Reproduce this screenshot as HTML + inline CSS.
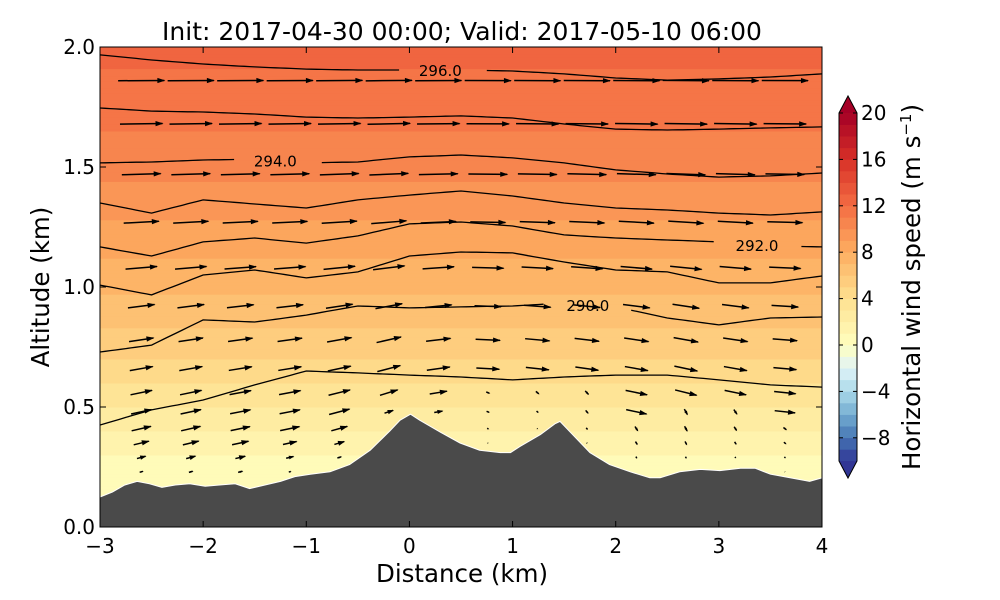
<!DOCTYPE html>
<html><head><meta charset="utf-8"><style>
html,body{margin:0;padding:0;background:#fff;}
svg{display:block;font-family:"DejaVu Sans","Liberation Sans",sans-serif;}
</style></head><body>
<svg id="chart" width="1000" height="600" viewBox="0 0 1000 600">
<defs><clipPath id="plotclip"><rect x="100" y="47" width="722" height="480"/></clipPath></defs>
<g id="field" clip-path="url(#plotclip)"></g>
<g id="isen" clip-path="url(#plotclip)"></g>
<g id="arrows" clip-path="url(#plotclip)"></g>
<g id="terrain" clip-path="url(#plotclip)"></g>
<g id="axes"></g>
<g id="cbar"></g>
<text x="462" y="40" font-size="25" text-anchor="middle">Init: 2017-04-30 00:00; Valid: 2017-05-10 06:00</text>
<text x="462" y="582" font-size="24.5" text-anchor="middle">Distance (km)</text>
<text transform="translate(49,287) rotate(-90)" font-size="24.5" text-anchor="middle">Altitude (km)</text>
<text transform="translate(920,287) rotate(-90)" font-size="24.5" text-anchor="middle">Horizontal wind speed (m s<tspan font-size="15" dy="-9">−1</tspan><tspan dy="9">)</tspan></text>
</svg>
<script>
const xTicks=[-3,-2,-1,0,1,2,3,4];
const yTicks=[0.0,0.5,1.0,1.5,2.0];
const cbTicks=[20,16,12,8,4,0,-4,-8];
const profileAlt=[0,0.2,0.3,0.4,0.5,0.6,0.7,0.8,1.0,1.2,1.4,1.6,1.8,2.0];
const profileSpeed=[0,0.3,1,2,3,4,5,5.8,7.2,8.5,9.8,10.8,11.6,12.3];
const terrainX=[-3.0,-2.88,-2.76,-2.64,-2.52,-2.40,-2.27,-2.13,-1.98,-1.84,-1.69,-1.55,-1.40,-1.25,-1.11,-0.96,-0.77,-0.58,-0.38,-0.19,-0.09,0.01,0.10,0.30,0.49,0.68,0.88,0.98,1.07,1.27,1.41,1.46,1.56,1.75,1.94,2.14,2.33,2.43,2.62,2.82,3.01,3.21,3.35,3.50,3.69,3.88,4.0];
const terrainZ=[0.125,0.146,0.175,0.19,0.18,0.165,0.175,0.18,0.17,0.175,0.18,0.16,0.175,0.19,0.21,0.22,0.23,0.26,0.32,0.40,0.445,0.47,0.445,0.395,0.35,0.32,0.31,0.31,0.335,0.385,0.43,0.44,0.395,0.31,0.26,0.23,0.205,0.205,0.23,0.24,0.235,0.245,0.245,0.22,0.205,0.19,0.205];
const isenX=[-3,-2.5,-2,-1.5,-1,-0.5,0,0.5,1,1.5,2,2.5,3,3.5,4];
const isenA=[1.967,1.946,1.929,1.917,1.908,1.904,1.904,1.904,1.9,1.888,1.871,1.862,1.867,1.875,1.888];
const isenB=[1.746,1.733,1.729,1.721,1.708,1.704,1.708,1.713,1.704,1.679,1.658,1.654,1.658,1.663,1.667];
const isenC=[1.517,1.521,1.529,1.533,1.517,1.521,1.542,1.55,1.538,1.517,1.488,1.471,1.458,1.463,1.475];
const isenD=[1.35,1.308,1.363,1.346,1.329,1.363,1.383,1.4,1.379,1.35,1.329,1.321,1.308,1.3,1.313];
const isenE=[1.167,1.129,1.188,1.204,1.183,1.213,1.263,1.271,1.254,1.217,1.204,1.196,1.188,1.171,1.167];
const isenF=[1.008,0.967,1.05,1.071,1.038,1.063,1.129,1.146,1.142,1.104,1.071,1.063,1.017,1.017,1.046];
const isenG=[0.729,0.758,0.863,0.854,0.883,0.921,0.913,0.917,0.921,0.933,0.917,0.871,0.842,0.871,0.875];
const isenH=[0.425,0.488,0.529,0.592,0.65,0.642,0.633,0.625,0.613,0.625,0.633,0.633,0.613,0.592,0.583];
const isenLabels=["296.0","294.0","292.0","290.0"];
const labelX=[0.3,-1.3,3.37,1.73];
const arrowCols=[-2.6,-2.12,-1.64,-1.16,-0.68,-0.2,0.28,0.76,1.24,1.72,2.2,2.68,3.16,3.64];
const arrowLevels=[0.23,0.29,0.35,0.41,0.48,0.56,0.66,0.78,0.92,1.08,1.27,1.47,1.68,1.86];
const uByLevel=[4,4.5,5,5.2,5.5,5.8,6.2,6.6,7.2,8.5,9.5,10.5,11.5,12.5];
const wByCol=[1.0,1.0,0.9,0.9,1.2,1.5,0.8,-0.3,-0.6,-0.8,-1.0,-1.2,-1.0,-0.5];
const wLevelFactor=[0.6,0.6,0.6,0.6,0.6,0.6,0.55,0.5,0.45,0.35,0.25,0.15,0.08,0.04];

const NS='http://www.w3.org/2000/svg';
const X0=100,X1=822,Y0=527,Y1=47;
const sx=v=>X0+(v+3)/7*(X1-X0);
const sy=v=>Y0-(v/2)*(Y0-Y1);
function mk(t,a,p){const e=document.createElementNS(NS,t);for(const k in a)e.setAttribute(k,a[k]);p.appendChild(e);return e;}
const cstops=[[-10,[49,54,149]],[-8,[69,117,180]],[-6,[116,173,209]],[-4,[171,217,233]],[-2,[224,243,248]],[0,[255,255,191]],[4,[254,224,144]],[8,[253,174,97]],[12,[244,109,67]],[16,[215,48,39]],[20,[165,0,38]]];
function cmap(v){v=Math.max(-10,Math.min(20,v));for(let i=0;i<cstops.length-1;i++){const a=cstops[i],b=cstops[i+1];if(v<=b[0]){const t=(v-a[0])/(b[0]-a[0]);return 'rgb('+a[1].map((c,j)=>Math.round(c+(b[1][j]-c)*t)).join(',')+')';}}return 'rgb(165,0,38)';}
function interp(xs,ys,x){if(x<=xs[0])return ys[0];for(let i=0;i<xs.length-1;i++){if(x<=xs[i+1]){const t=(x-xs[i])/(xs[i+1]-xs[i]);return ys[i]+(ys[i+1]-ys[i])*t;}}return ys[ys.length-1];}

const field=document.getElementById('field');
for(let a=0;a<2.0;a+=0.01){
  const s=interp(profileAlt,profileSpeed,a+0.005);
  const q=Math.floor(s)+0.5;
  const r=mk('rect',{x:X0,y:sy(a+0.01)-0.5,width:X1-X0,height:(sy(a)-sy(a+0.01))+1,fill:cmap(q)},field);
  
  
}

const isen=document.getElementById('isen');
const lines=[isenA,isenB,isenC,isenD,isenE,isenF,isenG,isenH];
const labelLine=[0,2,4,6];
lines.forEach((L,li)=>{
  const lab=labelLine.indexOf(li);
  let d='';
  const gapC=lab>=0?labelX[lab]:null;
  let pen=false;
  for(let x=-3;x<=4.001;x+=0.05){
    if(gapC!==null&&Math.abs(x-gapC)<0.4){pen=false;continue;}
    const y=interp(isenX,L,x);
    d+=(pen?'L':'M')+sx(x).toFixed(1)+','+sy(y).toFixed(1);pen=true;
  }
  const p=mk('path',{d:d,fill:'none',stroke:'#000','stroke-width':1.3},isen);
  
  
  if(lab>=0){
    const t=mk('text',{x:sx(gapC),y:sy(interp(isenX,L,gapC))+6,'font-size':15,'text-anchor':'middle'},isen);
    t.textContent=isenLabels[lab];
    
    
  }
});

const ag=document.getElementById('arrows');
const SC=3.7;
arrowCols.forEach((cx,ci)=>{
  const tz=interp(terrainX,terrainZ,cx);
  arrowLevels.forEach((lv,li)=>{
    if(lv<tz+0.02)return;
    let u=uByLevel[li];
    let w=wByCol[ci]*wLevelFactor[li]*2;
    const dz=lv-tz;
    if(dz<0.2){const f=Math.max(0.05,dz/0.2);u*=f;w*=f;}
    if(wByCol[ci]<0&&dz<0.25){u*=0.15;}
    const px=sx(cx),py=sy(lv);
    const dx=u*SC,dy=-w*SC;
    const len=Math.hypot(dx,dy);
    const x0=px-dx/2,y0=py-dy/2,x1=px+dx/2,y1=py+dy/2;
    const g=mk('g',{},ag);
    
    
    mk('line',{x1:x0,y1:y0,x2:x1,y2:y1,stroke:'#000','stroke-width':1.5},g);
    if(len>0.5){
      const ux=dx/len,uy=dy/len,h=Math.min(7,len*0.6),hw=Math.min(2.6,len*0.25);
      const bx=x1-ux*h,by=y1-uy*h;
      mk('polygon',{points:`${x1+ux},${y1+uy} ${bx-uy*hw},${by+ux*hw} ${bx+uy*hw},${by-ux*hw}`,fill:'#000'},g);
    }
  });
});

const tg=document.getElementById('terrain');
let td='M'+sx(-3)+','+Y0;
terrainX.forEach((x,i)=>{td+='L'+sx(x).toFixed(1)+','+sy(terrainZ[i]).toFixed(1);});
td+='L'+sx(4)+','+Y0+'Z';
const tp=mk('path',{d:td,fill:'#4a4a4a',stroke:'#fff','stroke-width':1},tg);



const ax=document.getElementById('axes');
mk('rect',{x:X0,y:Y1,width:X1-X0,height:Y0-Y1,fill:'none',stroke:'#000','stroke-width':1},ax);
xTicks.forEach(v=>{
  const x=sx(v);
  mk('line',{x1:x,y1:Y0,x2:x,y2:Y0-6,stroke:'#000'},ax);
  mk('line',{x1:x,y1:Y1,x2:x,y2:Y1+6,stroke:'#000'},ax);
  const t=mk('text',{x:x,y:Y0+26,'font-size':20,'text-anchor':'middle'},ax);
  t.textContent=(v<0?'−'+(-v):String(v));
  
  
});
yTicks.forEach(v=>{
  const y=sy(v);
  mk('line',{x1:X0,y1:y,x2:X0+6,y2:y,stroke:'#000'},ax);
  mk('line',{x1:X1,y1:y,x2:X1-6,y2:y,stroke:'#000'},ax);
  const t=mk('text',{x:X0-5,y:y+7,'font-size':20,'text-anchor':'end'},ax);
  t.textContent=v.toFixed(1);
  
  
});

const cb=document.getElementById('cbar');
const CX0=839,CX1=857,CT=113,CB=461;
const cy=v=>CB-(v+10)/30*(CB-CT);
for(let v=-10;v<20;v++){
  const r=mk('rect',{x:CX0,y:cy(v+1)-0.3,width:CX1-CX0,height:cy(v)-cy(v+1)+0.6,fill:cmap(v+0.5)},cb);
  
  
}
mk('polygon',{points:`${CX0},${CT} ${(CX0+CX1)/2},${CT-17} ${CX1},${CT}`,fill:cmap(20)},cb);
mk('polygon',{points:`${CX0},${CB} ${(CX0+CX1)/2},${CB+17} ${CX1},${CB}`,fill:cmap(-10)},cb);
mk('path',{d:`M${CX0},${CT} L${(CX0+CX1)/2},${CT-17} L${CX1},${CT} L${CX1},${CB} L${(CX0+CX1)/2},${CB+17} L${CX0},${CB} Z`,fill:'none',stroke:'#000','stroke-width':1},cb);
cbTicks.forEach(v=>{
  const y=cy(v);
  mk('line',{x1:CX1,y1:y,x2:CX1-4,y2:y,stroke:'#000'},cb);
  mk('line',{x1:CX0,y1:y,x2:CX0+4,y2:y,stroke:'#000'},cb);
  const t=mk('text',{x:CX1+4,y:y+7,'font-size':20},cb);
  t.textContent=(v<0?'−'+(-v):String(v));
  
  
});
</script>
</body></html>
